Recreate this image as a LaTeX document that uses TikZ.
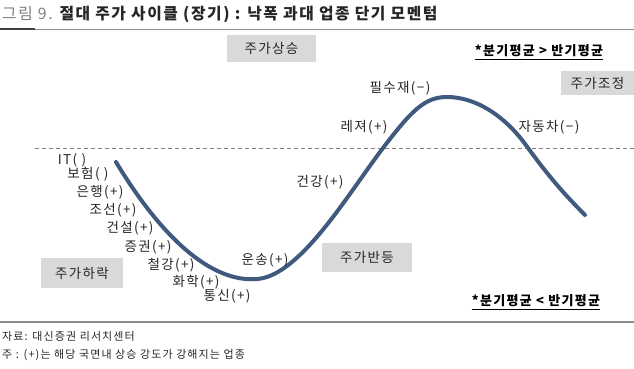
\documentclass[tikz,border=0pt]{standalone}
\usepackage{fontspec}
\setmainfont{Noto Sans CJK KR}[LetterSpace=10]
\usetikzlibrary{positioning}
\definecolor{curveblue}{HTML}{3F5A7E}
\definecolor{boxgray}{HTML}{D9D9D9}
\definecolor{rulegray}{HTML}{8C8C8C}
\definecolor{inkgray}{HTML}{262626}
\tikzstyle{phase} = [rectangle, fill=boxgray, text centered, inner sep=0pt, text=inkgray, font=\fontsize{13.5}{15}\selectfont]
\tikzstyle{sector} = [inner sep=0pt, text=inkgray, font=\fontsize{13.5}{15}\selectfont]
\tikzstyle{cond} = [inner sep=0pt, text=black, font=\bfseries\fontsize{13}{15}\selectfont]
\tikzstyle{foot} = [inner sep=0pt, anchor=west, text=inkgray, font=\fontsize{11}{13}\selectfont]
\tikzstyle{cycle} = [line width=4pt, curveblue, line cap=round]

\begin{document}
\begin{tikzpicture}[x=1pt, y=-1pt]

	\useasboundingbox (0,0) rectangle (634,369);

	% Title and rules
	\node (title) [inner sep=0pt, anchor=west, font=\fontsize{15.8}{18}\selectfont] at (2,14)
		{{\color{gray}그림 9.} \textbf{\color{inkgray}절대 주가 사이클 (장기) : 낙폭 과대 업종 단기 모멘텀}};
	\draw[rulegray, line width=0.8pt] (0,29) -- (634,29);
	\draw[darkgray, line width=1.6pt] (0,29) -- (35,29);
	\draw[rulegray, line width=2pt] (0,322) -- (634,322);

	% Reference level
	\draw[gray, line width=1pt, dash pattern=on 4pt off 3pt] (35,148) -- (634,148);

	% Cycle curve
	\draw[cycle] (116,162) .. controls (160,235) and (210,283) .. (257,279)
		.. controls (300,276) and (348,194) .. (383,148)
		.. controls (412,110) and (425,97) .. (447,97)
		.. controls (475,97) and (505,115) .. (528,148)
		.. controls (550,178) and (565,195) .. (585,215);

	% Phases
	\node (rise) [phase, minimum width=89pt, minimum height=27pt] at (271.5,48.5) {주가상승};
	\node (correct) [phase, minimum width=73pt, minimum height=24pt] at (597.5,83) {주가조정};
	\node (fall) [phase, minimum width=82pt, minimum height=30pt] at (82,273) {주가하락};
	\node (rebound) [phase, minimum width=90pt, minimum height=29pt] at (367,257.5) {주가반등};

	% Conditions
	\node (cond_hi) [cond] at (539,51) {*분기평균 > 반기평균};
	\node (cond_lo) [cond] at (536,301) {*분기평균 < 반기평균};
	\draw[line width=1.2pt] ([yshift=-2pt]cond_hi.south west) -- ([yshift=-2pt]cond_hi.south east);
	\draw[line width=1.2pt] ([yshift=-2pt]cond_lo.south west) -- ([yshift=-2pt]cond_lo.south east);

	% Sectors - falling
	\node (it) [sector] at (72,160) {IT( )};
	\node (insur) [sector] at (88,174) {보험( )};
	\node (bank) [sector] at (100,192) {은행(+)};
	\node (ship) [sector] at (113,210) {조선(+)};
	\node (build) [sector] at (130,228) {건설(+)};
	\node (secur) [sector] at (148,247) {증권(+)};
	\node (steel) [sector] at (171,265) {철강(+)};
	\node (chem) [sector] at (196,282) {화학(+)};
	\node (telco) [sector] at (227,296) {통신(+)};

	% Sectors - rising and correcting
	\node (trans) [sector] at (265,260) {운송(+)};
	\node (health) [sector] at (320,182) {건강(+)};
	\node (leisure) [sector] at (364,127) {레져(+)};
	\node (staples) [sector] at (400,88) {필수재(−)};
	\node (auto) [sector] at (549,127) {자동차(−)};

	% Footnotes
	\node (source) [foot] at (2,336) {자료: 대신증권 리서치센터};
	\node (note) [foot] at (2,355) {주 : (+)는 해당 국면내 상승 강도가 강해지는 업종};

\end{tikzpicture}
\end{document}
